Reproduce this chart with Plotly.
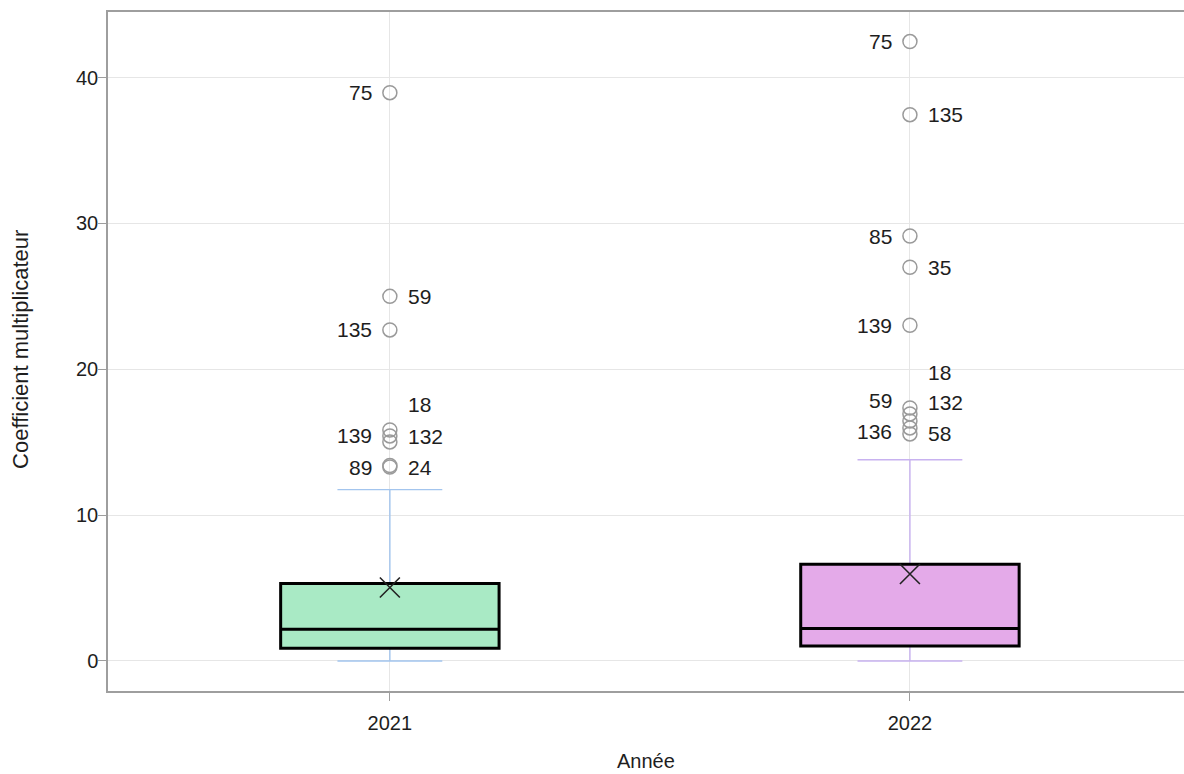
import plotly.graph_objects as go

# Years and summary statistics of the multiplier coefficient
years = ["2021", "2022"]
q1 = [0.87, 1.03]
median = [2.18, 2.22]
q3 = [5.31, 6.64]
lower_fence = [0.0, 0.0]
upper_fence = [11.75, 13.8]
mean = [5.04, 5.96]

fill_colors = ["#a9eac5", "#e4aae9"]
whisker_colors = ["#a3c5ee", "#c8b2f0"]

# Outliers: observation id, value, label side, vertical label shift (px)
out_2021_ids = ["75", "59", "135", "18", "139", "132", "89", "24"]
out_2021_vals = [38.97, 25.0, 22.7, 15.84, 15.43, 15.02, 13.4, 13.3]
out_2021_side = ["left", "right", "left", "right", "left", "right", "left", "right"]
out_2021_dy = [0, 0, 0, 25, 0, 5, -2, 0]

out_2022_ids = ["75", "135", "85", "35", "139", "18", "59", "132", "136", "58"]
out_2022_vals = [42.47, 37.46, 29.14, 27.0, 23.02, 17.35, 16.94, 16.46, 15.98, 15.57]
out_2022_side = ["left", "right", "left", "right", "left", "right", "left", "right", "left", "right"]
out_2022_dy = [0, 0, 0, 0, 0, 35, 13, 18, -4, 0]

outliers = [
    (out_2021_ids, out_2021_vals, out_2021_side, out_2021_dy),
    (out_2022_ids, out_2022_vals, out_2022_side, out_2022_dy),
]

FONT = "Liberation Sans"
TXT = "#1e1e1e"

fig = go.Figure()

for i, yr in enumerate(years):
    # whiskers and caps in a light tint
    fig.add_trace(go.Box(
        x=[i], q1=[q1[i]], median=[median[i]], q3=[q3[i]],
        lowerfence=[lower_fence[i]], upperfence=[upper_fence[i]],
        width=0.42, whiskerwidth=0.48, boxpoints=False,
        line=dict(color=whisker_colors[i], width=1.4),
        fillcolor="rgba(0,0,0,0)", hoverinfo="skip", showlegend=False,
    ))
    # filled box with black outline and median
    fig.add_trace(go.Box(
        x=[i], q1=[q1[i]], median=[median[i]], q3=[q3[i]],
        lowerfence=[q1[i]], upperfence=[q3[i]],
        width=0.42, whiskerwidth=0, boxpoints=False,
        line=dict(color="#000000", width=3),
        fillcolor=fill_colors[i], name=yr, showlegend=False,
    ))

# means
fig.add_trace(go.Scatter(
    x=[0, 1], y=mean, mode="markers",
    marker=dict(symbol="x-thin", size=20, line=dict(color="#222222", width=1.6)),
    showlegend=False,
))

annotations = []
for i, (ids, vals, sides, dys) in enumerate(outliers):
    fig.add_trace(go.Scatter(
        x=[i] * len(vals), y=vals, mode="markers",
        marker=dict(symbol="circle-open", size=14, color="#9a9a9a",
                    line=dict(color="#9a9a9a", width=1.5)),
        text=ids, showlegend=False,
    ))
    for lab, v, side, dy in zip(ids, vals, sides, dys):
        annotations.append(dict(
            x=i, y=v, xref="x", yref="y", text=lab, showarrow=False,
            xanchor="right" if side == "left" else "left",
            xshift=-16 if side == "left" else 16, yshift=dy,
            font=dict(family=FONT, size=21, color=TXT),
        ))

# axis titles
annotations.append(dict(
    x=-0.0809, y=0.5037, xref="paper", yref="paper", text="Coefficient multiplicateur",
    textangle=-90, showarrow=False, xanchor="center", yanchor="middle",
    font=dict(family=FONT, size=22, color=TXT),
))
annotations.append(dict(
    x=0.5, y=-0.1031, xref="paper", yref="paper", text="Année",
    showarrow=False, xanchor="center", yanchor="middle",
    font=dict(family=FONT, size=20, color=TXT),
))

fig.update_layout(
    width=1184, height=774,
    margin=dict(l=108, r=0, t=12, b=83),
    paper_bgcolor="white", plot_bgcolor="white",
    boxmode="overlay",
    annotations=annotations,
    font=dict(family=FONT, size=20, color=TXT),
)
fig.update_xaxes(
    range=[-0.542, 1.527], tickvals=[0, 1], ticktext=years,
    showgrid=True, gridcolor="#e6e6e6", gridwidth=1, zeroline=False,
    showline=True, linecolor="#9e9e9e", linewidth=1.5, mirror=True,
    ticks="outside", ticklen=8, tickcolor="#9e9e9e", ticklabelstandoff=5,
    tickfont=dict(family=FONT, size=20, color=TXT),
)
fig.update_yaxes(
    range=[-2.06, 44.5], tickvals=[0, 10, 20, 30, 40],
    showgrid=True, gridcolor="#e6e6e6", gridwidth=1, zeroline=False,
    showline=True, linecolor="#9e9e9e", linewidth=1.5, mirror=False,
    ticks="outside", ticklen=8, tickcolor="#9e9e9e", ticklabelstandoff=-4,
    tickfont=dict(family=FONT, size=20, color=TXT),
)

fig.write_html("out.html")
